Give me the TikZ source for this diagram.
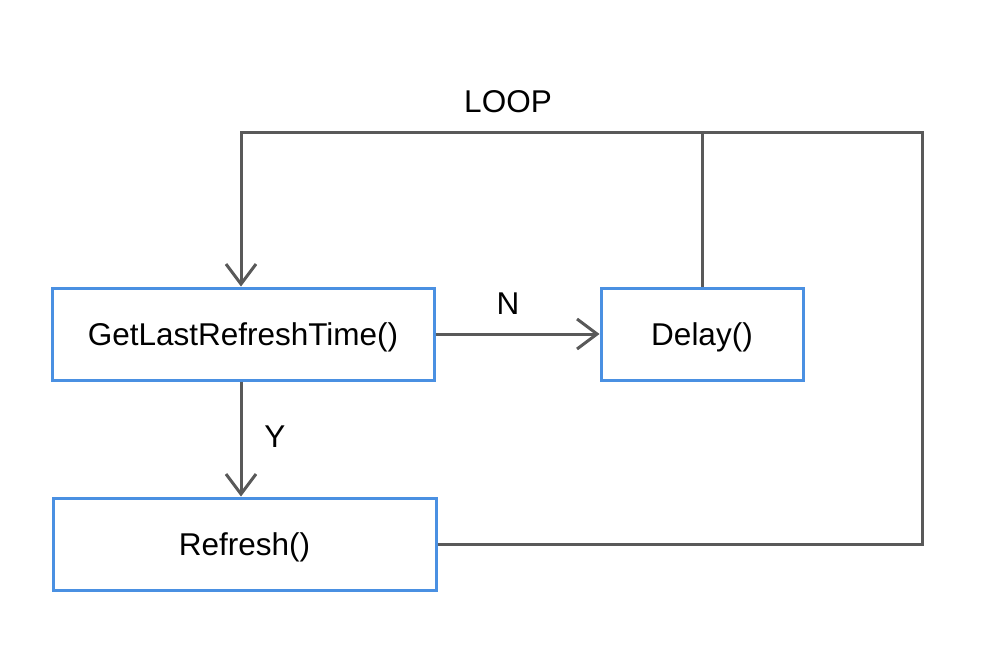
\documentclass[tikz,border=0pt]{standalone}
\usepackage{fontspec}
\setmainfont{Liberation Sans}
\usetikzlibrary{arrows.meta}
\definecolor{boxblue}{HTML}{4A90E2}
\definecolor{linegray}{HTML}{595959}
\begin{document}
\begin{tikzpicture}[x=1pt,y=-1pt,
  box/.style={draw=boxblue,line width=3pt,minimum height=92pt,inner sep=0pt,text height=22.5pt,text depth=0pt,font=\fontsize{31.5}{36}\selectfont},
  conn/.style={draw=linegray,line width=3pt},
  arr/.style={conn,-{Straight Barb[length=20pt,width=30pt,line width=3pt]}},
  lbl/.style={font=\fontsize{31.5}{36}\selectfont,inner sep=0pt,text height=22.5pt,text depth=0pt}]
\useasboundingbox (0,0) rectangle (986,672);
\node[box,minimum width=382pt] (get) at (243,334) {GetLastRefreshTime()};
\node[box,minimum width=202pt] (delay) at (702,334) {Delay()};
\node[box,minimum width=383pt] (ref) at (244.5,544) {Refresh()};
\coordinate (c1) at (922,132);
\coordinate (c2) at (241,132);
\coordinate (c3) at (702,132);
\draw[arr] (get.east) -- (delay.west);
\draw[arr] (get.south -| c2) -- (ref.north -| c2);
\draw[arr] (ref.east) -| (c1) -- (c2) -- (get.north -| c2);
\draw[conn] (delay.north) -- (c3);
\node[lbl] (n) at (508,303) {N};
\node[lbl] (y) at (275,436) {Y};
\node[lbl] (loop) at (508,101) {LOOP};
\end{tikzpicture}
\end{document}
